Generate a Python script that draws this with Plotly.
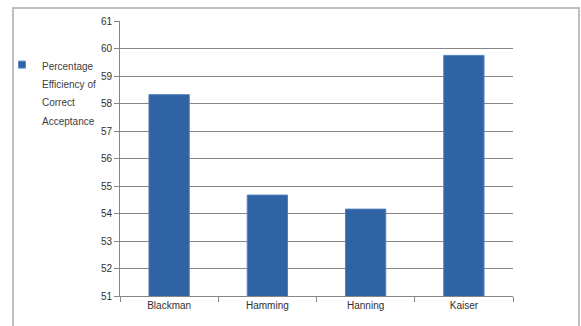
import plotly.graph_objects as go

categories = ["Blackman", "Hamming", "Hanning", "Kaiser"]
values = [58.32, 54.67, 54.16, 59.75]
series_name = "Percentage<br>Efficiency of<br>Correct<br>Acceptance"
y_ticks = [51, 52, 53, 54, 55, 56, 57, 58, 59, 60, 61]

W, H = 581, 326
L, R, T, B = 120, 68, 21, 30
pw, ph = W - L - R, H - T - B
BAR_COLOR = "#3063a4"

def px_x(x):
    return (x - L) / pw

def px_y(y):
    return 1 - (y - T) / ph

label = "<br>".join('<span style="font-size:10px">%s</span>' % s for s in series_name.split("<br>"))

fig = go.Figure()
fig.add_trace(go.Bar(
    x=categories, y=values, name=label,
    marker=dict(color=BAR_COLOR, line=dict(color="#4f80c0", width=1)),
    width=0.41, showlegend=False,
))
# legend entry (small square key, as in the reference)
fig.add_trace(go.Scatter(
    x=[None], y=[None], mode="markers", name=label,
    marker=dict(symbol="square", size=7, color=BAR_COLOR,
                line=dict(color="#5a8ad0", width=1)),
    showlegend=True,
))

fig.update_layout(
    width=W, height=H,
    margin=dict(l=L, r=R, t=T, b=B, autoexpand=False),
    paper_bgcolor="white", plot_bgcolor="white",
    font=dict(family="Liberation Sans, Arial, sans-serif", size=10, color="#404040"),
    legend=dict(
        x=px_x(2), y=px_y(49), xanchor="left", yanchor="top",
        font=dict(size=14, color="#404040"), valign="top",
        itemwidth=30, bgcolor="rgba(0,0,0,0)",
    ),
    xaxis=dict(
        showgrid=False, showline=True, linecolor="#868686", linewidth=1,
        ticks="outside", tickson="boundaries", ticklen=5, tickcolor="#868686",
        tickfont=dict(size=10, color="#303030"),
    ),
    yaxis=dict(
        range=[51, 61], tickvals=y_ticks, showgrid=True, gridcolor="#868686", gridwidth=1,
        showline=True, linecolor="#868686", linewidth=1,
        ticks="outside", ticklen=5, tickcolor="#868686",
        tickfont=dict(size=10, color="#303030"), zeroline=False,
    ),
    shapes=[dict(
        type="rect", xref="paper", yref="paper",
        x0=px_x(13), x1=px_x(579), y0=px_y(340), y1=px_y(8),
        line=dict(color="#bfbfbf", width=2), fillcolor="rgba(0,0,0,0)", layer="below",
    )],
)

fig.write_html("out.html")
